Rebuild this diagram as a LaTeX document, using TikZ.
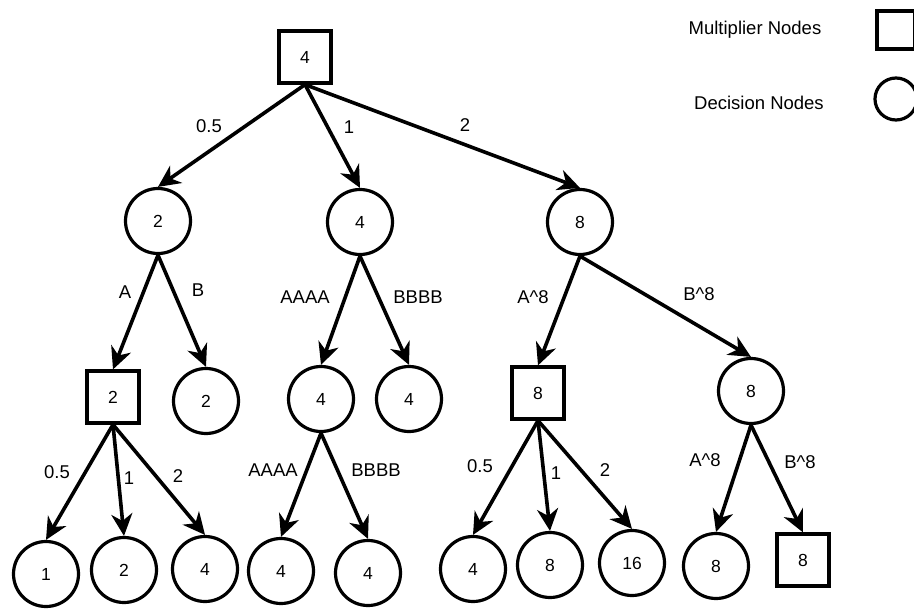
\documentclass[tikz,border=0pt]{standalone}
\usepackage{fontspec}
\setmainfont{Liberation Sans}
\usetikzlibrary{arrows.meta, shapes.geometric}
\tikzset{
  >={Stealth[length=22pt,width=21pt,inset=7pt]},
  % Nodi
  mult/.style={draw,line width=3.2pt,rectangle,minimum size=52pt,inner sep=0pt},
  dec/.style={draw,line width=3.2pt,circle,minimum size=65pt,inner sep=0pt},
  legmult/.style={mult,minimum size=38pt},
  legdec/.style={dec,minimum size=42pt},
  % Etichette e connessioni
  lbl/.style={font=\fontsize{18.5}{18.5}\selectfont,inner sep=0pt},
  connect/.style={->,line width=3.6pt}
}

\begin{document}
\begin{tikzpicture}[x=1pt,y=-1pt,font=\fontsize{17.5}{17.5}\selectfont]
        \useasboundingbox (0,0) rectangle (914,610);
        % legenda
        \node[lbl] (legm) at (755,30) {Multiplier Nodes};
        \node[lbl] (legd) at (759,103) {Decision Nodes};
        \node[legmult] (legsq) at (896,30) {};
        \node[legdec] (legci) at (896,99) {};
        % livello 0 e 1
        \node[mult] (root) at (305,57) {4};
        \node[dec] (d1) at (158,221) {2};
        \node[dec] (d2) at (360,222) {4};
        \node[dec] (d3) at (580,222) {8};
        % livello 2
        \node[mult] (m1) at (113,397) {2};
        \node[dec] (d4) at (206,401) {2};
        \node[dec] (d5) at (321,399) {4};
        \node[dec] (d6) at (409,399) {4};
        \node[mult] (m2) at (538,393) {8};
        \node[dec] (d7) at (751,391) {8};
        % foglie
        \node[dec] (f1) at (46,574) {1};
        \node[dec] (f2) at (124,570) {2};
        \node[dec] (f3) at (205,569) {4};
        \node[dec] (f4) at (281,571) {4};
        \node[dec] (f5) at (368,573) {4};
        \node[dec] (f6) at (473,569) {4};
        \node[dec] (f7) at (550,565) {8};
        \node[dec] (f8) at (632,563) {16};
        \node[dec] (f9) at (716,566) {8};
        \node[mult] (f10) at (803,560) {8};
        % frecce
        \foreach \a/\b in {root/d1,root/d2,root/d3,d1/m1,d1/d4,d2/d5,d2/d6,d3/m2,d3/d7,
                           m1/f1,m1/f2,m1/f3,d5/f4,d5/f5,m2/f6,m2/f7,m2/f8,d7/f9,d7/f10}
          \draw[connect] (\a.south) -- (\b.north);
        % etichette
        \node[lbl] (e1) at (209,126) {0.5};
        \node[lbl] (e2) at (349,127) {1};
        \node[lbl] (e3) at (465,125) {2};
        \node[lbl] (e4) at (125,292) {A};
        \node[lbl] (e5) at (198,290) {B};
        \node[lbl] (e6) at (305,297) {AAAA};
        \node[lbl] (e7) at (418,297) {BBBB};
        \node[lbl] (e8) at (533,297) {A\^{}8};
        \node[lbl] (e9) at (699,294) {B\^{}8};
        \node[lbl] (e10) at (57,472) {0.5};
        \node[lbl] (e11) at (129,478) {1};
        \node[lbl] (e12) at (178,476) {2};
        \node[lbl] (e13) at (273,470) {AAAA};
        \node[lbl] (e14) at (376,470) {BBBB};
        \node[lbl] (e15) at (480,466) {0.5};
        \node[lbl] (e16) at (556,473) {1};
        \node[lbl] (e17) at (605,470) {2};
        \node[lbl] (e18) at (705,460) {A\^{}8};
        \node[lbl] (e19) at (800,462) {B\^{}8};
      \end{tikzpicture}
\end{document}
